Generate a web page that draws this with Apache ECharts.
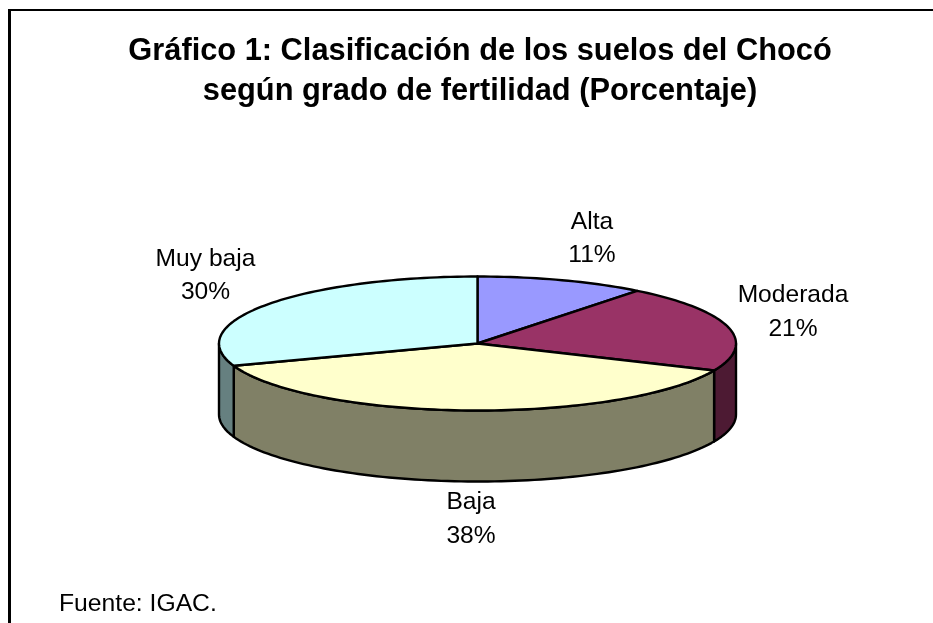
<!DOCTYPE html>
<html>
<head>
<meta charset="utf-8">
<style>html,body{margin:0;padding:0;background:#fff}#c{width:933px;height:623px}</style>
<script src="https://cdn.jsdelivr.net/npm/echarts@6/dist/echarts.min.js"></script>
</head>
<body>
<div id="c"></div>
<script>
const categories = ['Alta', 'Moderada', 'Baja', 'Muy baja'];
const values = [10.6, 21.0, 38.0, 30.4];
const titleText = 'Gráfico 1: Clasificación de los suelos del Chocó\nsegún grado de fertilidad (Porcentaje)';
const sourceText = 'Fuente: IGAC.';

const topColors = ['#9999FF', '#993366', '#FFFFCC', '#CCFFFF'];
const sideColors = ['#4D4D80', '#4D1A33', '#808066', '#668080'];
const labelPos = [[592, 238.5], [793, 312], [471, 519], [205.5, 275.5]];
const pie = { cx: 477.5, cy: 343.5, rx: 258.5, ry: 67, depth: 71 };
const font = '"Liberation Sans", Arial, sans-serif';

const total = values.reduce((a, b) => a + b, 0);
const starts = [];
values.reduce((acc, v, i) => { starts[i] = acc; return acc + v; }, 0);

function pt(deg, dy) {
  const t = deg * Math.PI / 180;
  return [pie.cx + pie.rx * Math.sin(t), pie.cy - pie.ry * Math.cos(t) + (dy || 0)];
}
function arc(a, b, dy) {
  const pts = [], n = Math.max(2, Math.ceil(Math.abs(b - a) / 1.5));
  for (let i = 0; i <= n; i++) pts.push(pt(a + (b - a) * i / n, dy));
  return pts;
}

function renderItem(params, api) {
  const i = params.dataIndex;
  const a0 = starts[i] / total * 360;
  const a1 = (starts[i] + api.value(0)) / total * 360;
  const children = [];
  const s0 = Math.max(a0, 90), s1 = Math.min(a1, 270);
  if (s1 > s0) {
    const side = arc(s0, s1, 0).concat(arc(s1, s0, pie.depth));
    children.push({
      type: 'polygon',
      shape: { points: side },
      style: { fill: sideColors[i], stroke: '#000', lineWidth: 2.4, lineJoin: 'round' }
    });
  }
  children.push({
    type: 'polygon',
    shape: { points: [[pie.cx, pie.cy]].concat(arc(a0, a1, 0)) },
    style: { fill: topColors[i], stroke: '#000', lineWidth: 2.4, lineJoin: 'round' }
  });
  children.push({
    type: 'text',
    z2: 10,
    style: {
      text: categories[i] + '\n' + Math.round(api.value(0) / total * 100) + '%',
      x: labelPos[i][0], y: labelPos[i][1],
      align: 'center', verticalAlign: 'middle',
      fontFamily: font, fontSize: 24.6, lineHeight: 33.5, fill: '#000'
    }
  });
  return { type: 'group', children };
}

const chart = echarts.init(document.getElementById('c'), null, { renderer: 'canvas' });
chart.setOption({
  animation: false,
  backgroundColor: '#fff',
  title: {
    text: titleText,
    left: 480, top: 31.3, textAlign: 'center', padding: 0,
    textStyle: { fontFamily: font, fontWeight: 'bold', fontSize: 30.8, lineHeight: 40, color: '#000' }
  },
  tooltip: { show: false },
  series: [{
    type: 'custom',
    coordinateSystem: 'none',
    silent: true,
    renderItem,
    data: values.map((v, i) => ({ name: categories[i], value: [v] }))
  }],
  graphic: [
    { type: 'line', shape: { x1: 9, y1: 10, x2: 933, y2: 10 }, style: { stroke: '#000', lineWidth: 2 } },
    { type: 'line', shape: { x1: 9.5, y1: 9, x2: 9.5, y2: 623 }, style: { stroke: '#000', lineWidth: 3 } },
    { type: 'text', style: { text: sourceText, x: 59, y: 604.5, verticalAlign: 'middle', fontFamily: font, fontSize: 24.7, fill: '#000' } }
  ]
});
</script>
</body>
</html>
